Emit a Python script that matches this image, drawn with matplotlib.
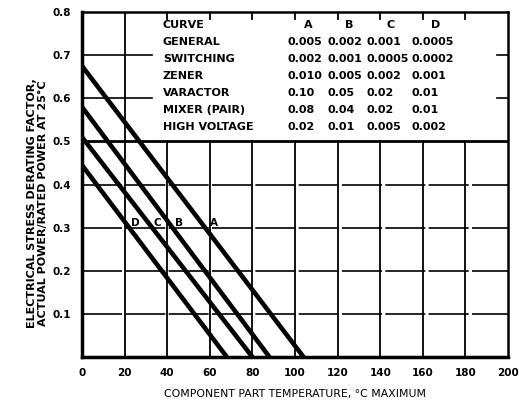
import numpy as np
import matplotlib
matplotlib.use("Agg")
import matplotlib.pyplot as plt

# derating curves: value at 0 C and temperature where they reach zero
curves = ['A', 'B', 'C', 'D']
start_y = [0.675, 0.58, 0.51, 0.445]
end_x = [104, 88, 80, 68]
label_x = [62, 45.5, 35.5, 25]
label_y = 0.312

# table in upper right
rows = ['GENERAL', 'SWITCHING', 'ZENER', 'VARACTOR', 'MIXER (PAIR)', 'HIGH VOLTAGE']
col_a = ['0.005', '0.002', '0.010', '0.10', '0.08', '0.02']
col_b = ['0.002', '0.001', '0.005', '0.05', '0.04', '0.01']
col_c = ['0.001', '0.0005', '0.002', '0.02', '0.02', '0.005']
col_d = ['0.0005', '0.0002', '0.001', '0.01', '0.01', '0.002']

xticks = [0, 20, 40, 60, 80, 100, 120, 140, 160, 180, 200]
yticks = [0.1, 0.2, 0.3, 0.4, 0.5, 0.6, 0.7, 0.8]

plt.rcParams['font.family'] = ['DejaVu Sans']
plt.rcParams['font.weight'] = 'bold'

fig = plt.figure(figsize=(5.19, 4.03), dpi=100)
ax = fig.add_axes([0.158, 0.114, 0.821, 0.856])
ax.set_xlim(0, 200)
ax.set_ylim(0, 0.8)

# grid
ax.axvline(20, color='k', lw=1.3)
for x in xticks[2:-1]:
    ax.plot([x, x], [0, 0.5], color='k', lw=1.3)
    ax.plot([x, x], [0.785, 0.8], color='k', lw=1.3)
for y in [0.1, 0.2, 0.3, 0.4]:
    ax.axhline(y, color='k', lw=1.2, ls=(0, (24, 2)))
ax.axhline(0.5, color='k', lw=2.0)
for y in [0.6, 0.7]:
    ax.plot([0, 33], [y, y], color='k', lw=1.2)
    ax.plot([195, 200], [y, y], color='k', lw=1.2)

# curves
for name, y0, x1, lx in zip(curves, start_y, end_x, label_x):
    ax.plot([0, x1], [y0, 0], color='k', lw=3.3, solid_capstyle='butt')
    ax.text(lx, label_y, name, fontsize=7.5, ha='center', va='center')

# table
fs = 8
top = 0.770
step = 0.0393
ax.text(38, top, 'CURVE', fontsize=fs, va='center')
for hx, h in zip([106, 125.5, 145, 166], curves):
    ax.text(hx, top, h, fontsize=fs, va='center', ha='center')
for i, r in enumerate(rows):
    y = top - step * (i + 1)
    ax.text(38, y, r, fontsize=fs, va='center')
    for cx, col in zip([96.5, 115, 133.5, 154.5], [col_a, col_b, col_c, col_d]):
        ax.text(cx, y, col[i], fontsize=fs, va='center')

ax.set_xticks(xticks)
ax.set_yticks(yticks)
ax.set_xticklabels([str(v) for v in xticks], fontsize=7.5)
ax.set_yticklabels(['%.1f' % v for v in yticks], fontsize=7.5)
ax.tick_params(length=0, pad=8)
for s in ['left', 'bottom']:
    ax.spines[s].set_linewidth(2.5)
for s in ['top', 'right']:
    ax.spines[s].set_linewidth(1.8)

ax.set_xlabel('COMPONENT PART TEMPERATURE, \u00b0C MAXIMUM', fontsize=7.8, labelpad=8)
fig.text(0.072, 0.497, 'ELECTRICAL STRESS DERATING FACTOR,\nACTUAL POWER/RATED POWER AT 25\u00b0C',
         rotation=90, fontsize=8, ha='center', va='center', multialignment='center',
         linespacing=1.05)

fig.savefig('out.png', dpi=100)
